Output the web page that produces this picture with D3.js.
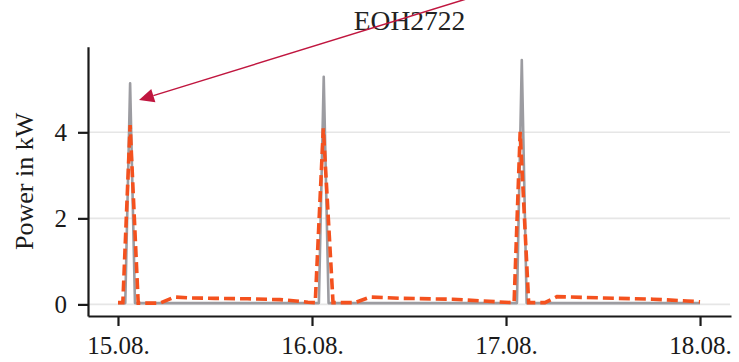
<!DOCTYPE html>
<html>
<head>
<meta charset="utf-8">
<script src="https://cdn.jsdelivr.net/npm/d3@7"></script>
<style>
  html, body { margin: 0; padding: 0; background: #fff; }
  svg { display: block; }
</style>
</head>
<body>
<svg id="chart" width="739" height="362"></svg>
<script>
// Heat pump EOH2722: measured vs. forecast electrical power, 15.08.–18.08.
const title = "EOH2722";
const yLabel = "Power in kW";

// x ticks: hours since 15.08. 00:00 and their labels
const tickHours = [0, 24, 48, 72];
const tickLabels = ["15.08.", "16.08.", "17.08.", "18.08."];
const yTicks = [0, 2, 4];

// measured power (grey, solid)
const measuredHours = [0, 0.9, 1.5, 2.1, 4, 8, 12, 16, 20, 24.85, 25.45, 26.05, 30, 36, 42, 46, 49.35, 49.95, 50.55, 56, 62, 68, 72];
const measuredKW    = [0.03, 0.03, 5.14, 0.03, 0.03, 0.03, 0.03, 0.03, 0.03, 0.03, 5.29, 0.03, 0.03, 0.03, 0.03, 0.03, 0.03, 5.68, 0.03, 0.03, 0.03, 0.03, 0.03];

// forecast power (orange, dashed)
const forecastHours = [0, 0.6, 1.5, 2.5, 5.2, 7.0, 9, 12, 16, 20, 22, 23.5, 24.4, 25.4, 26.6, 29.3, 31.2, 35.3, 41.4, 46.9,
                       49.0, 49.75, 50.8, 52.8, 54.3, 60, 66.2, 70.4, 72];
const forecastKW    = [0.04, 0.04, 4.17, 0.03, 0.03, 0.17, 0.15, 0.14, 0.13, 0.11, 0.08, 0.05, 0.04, 4.09, 0.04, 0.04, 0.17, 0.14, 0.12, 0.06,
                       0.04, 4.01, 0.04, 0.04, 0.18, 0.15, 0.12, 0.08, 0.06];

// arrow annotation (data coordinates: hours, kW)
const arrowTip  = { h: 2.6, kw: 4.75 };
const arrowTail = { h: 50, kw: 7.5 };

const svg = d3.select("#chart");
const W = 739, H = 362;
const m = { top: 46.7, right: 8, bottom: 46, left: 88 };

const x = d3.scaleLinear().domain([-3.71, 75.83]).range([m.left, W - m.right]);
const y = d3.scaleLinear().domain([-0.27, 5.99]).range([H - m.bottom, m.top]);

const font = "'Liberation Serif', 'Times New Roman', serif";

// horizontal grid
svg.append("g").selectAll("line").data(yTicks).join("line")
  .attr("x1", m.left).attr("x2", W - m.right - 1)
  .attr("y1", d => y(d)).attr("y2", d => y(d))
  .attr("stroke", "#e6e6e6").attr("stroke-width", 1.6);

// series
const measured = measuredHours.map((h, i) => ({ h, v: measuredKW[i] }));
const forecast = forecastHours.map((h, i) => ({ h, v: forecastKW[i] }));
const line = d3.line().x(d => x(d.h)).y(d => y(d.v));

svg.append("path").datum(measured).attr("d", line)
  .attr("fill", "none").attr("stroke", "#9c9ca1").attr("stroke-width", 2.6)
  .attr("stroke-linejoin", "round");

svg.append("path").datum(forecast).attr("d", line)
  .attr("fill", "none").attr("stroke", "#f4511e").attr("stroke-width", 3.6)
  .attr("stroke-dasharray", "11,5");

// axes
const xAxis = d3.axisBottom(x).tickValues(tickHours)
  .tickFormat((d, i) => tickLabels[i]).tickSize(10).tickSizeOuter(0).tickPadding(10);
const yAxis = d3.axisLeft(y).tickValues(yTicks).tickFormat(d3.format("d"))
  .tickSize(10).tickSizeOuter(0).tickPadding(11);

const gx = svg.append("g").attr("transform", `translate(0,${H - m.bottom})`).call(xAxis);
const gy = svg.append("g").attr("transform", `translate(${m.left},0)`).call(yAxis);

[gx, gy].forEach(g => {
  g.select(".domain").attr("stroke", "#1a1a1a").attr("stroke-width", 2.2);
  g.selectAll(".tick line").attr("stroke", "#1a1a1a").attr("stroke-width", 2.2);
  g.selectAll(".tick text").attr("fill", "#1a1a1a")
    .style("font-family", font).style("font-size", "25px");
});

// y label
svg.append("text")
  .attr("transform", `translate(33,${(m.top + H - m.bottom) / 2}) rotate(-90)`)
  .attr("text-anchor", "middle")
  .style("font-family", font).style("font-size", "26px").attr("fill", "#1a1a1a")
  .text(yLabel);

// title
svg.append("text")
  .attr("x", (m.left + W - m.right) / 2).attr("y", 30)
  .attr("text-anchor", "middle")
  .style("font-family", font).style("font-size", "27.5px").attr("fill", "#222")
  .text(title);

// arrow pointing at the first peak
const tx = x(arrowTip.h), ty = y(arrowTip.kw);
const sx = x(arrowTail.h), sy = y(arrowTail.kw);
const ang = Math.atan2(sy - ty, sx - tx);
const headLen = 15, headHalf = 7;
const bx = tx + headLen * Math.cos(ang), by = ty + headLen * Math.sin(ang);
svg.append("line")
  .attr("x1", sx).attr("y1", sy).attr("x2", bx).attr("y2", by)
  .attr("stroke", "#c0163f").attr("stroke-width", 1.5);
svg.append("path")
  .attr("d", d3.line()([
    [tx, ty],
    [bx - headHalf * Math.sin(ang), by + headHalf * Math.cos(ang)],
    [bx + headHalf * Math.sin(ang), by - headHalf * Math.cos(ang)]
  ]) + "Z")
  .attr("fill", "#c0163f");
</script>
</body>
</html>
